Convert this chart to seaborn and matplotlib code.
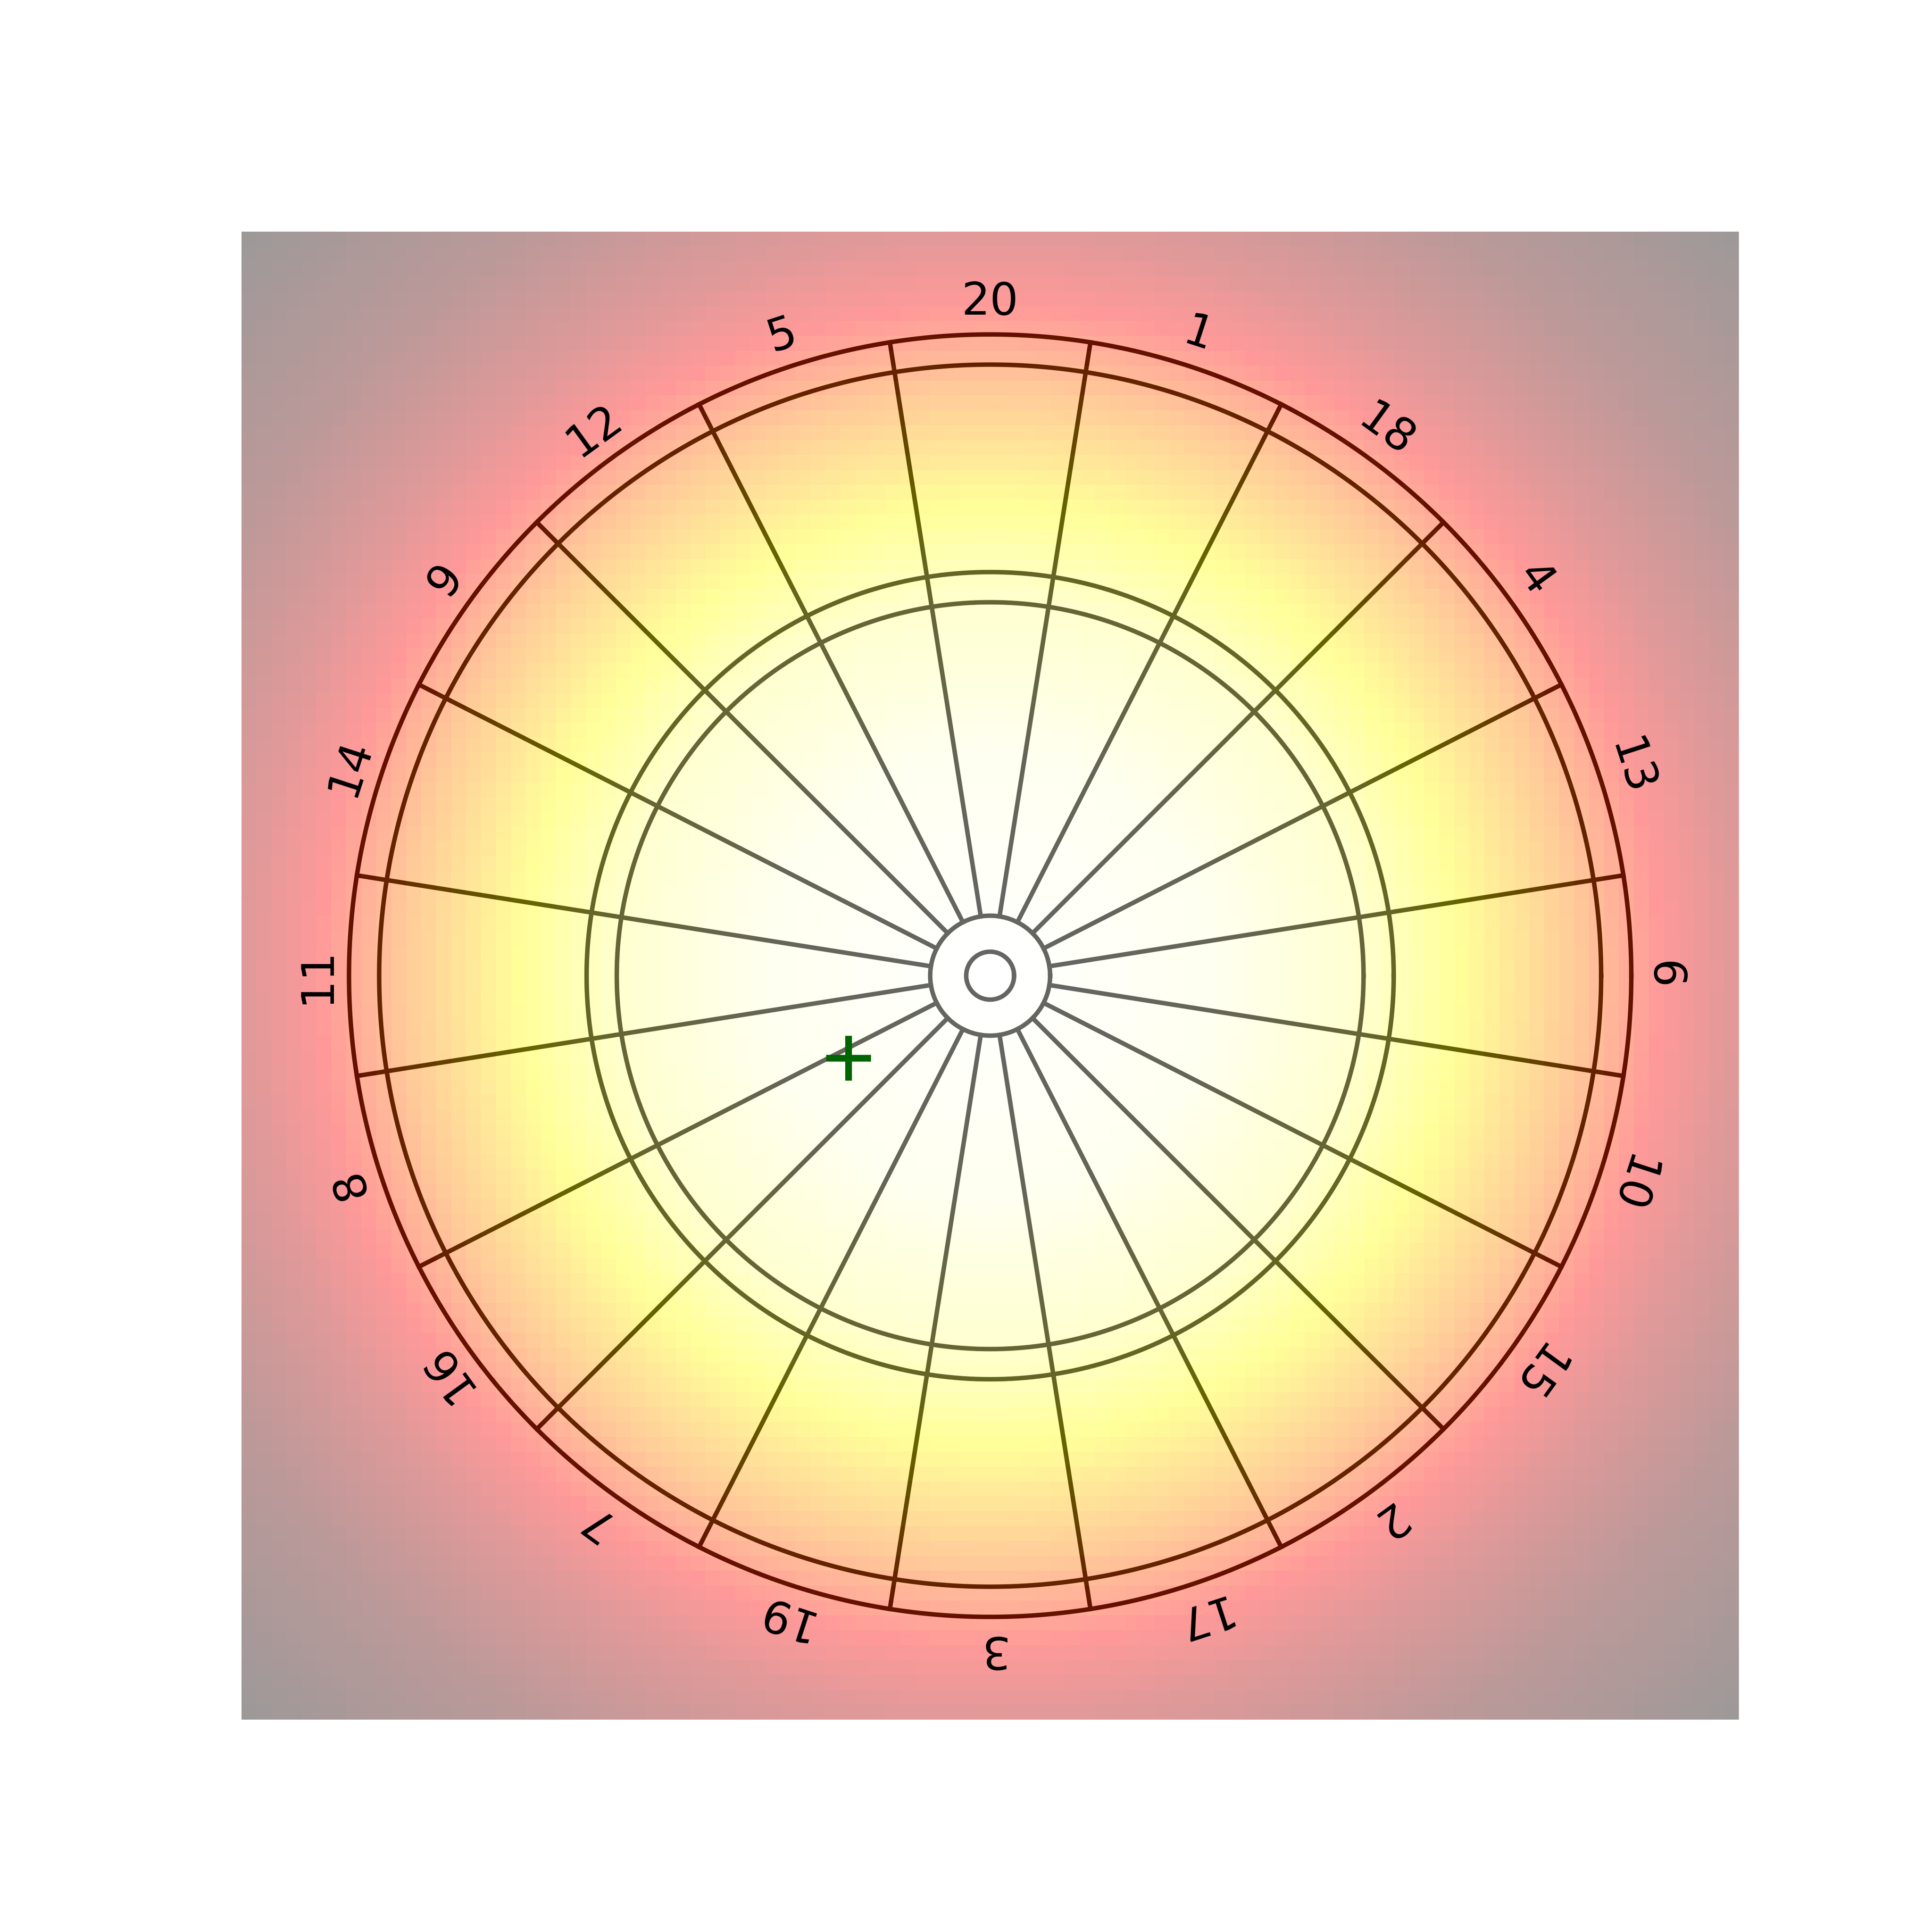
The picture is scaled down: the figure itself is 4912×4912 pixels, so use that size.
import numpy as np
import matplotlib
matplotlib.use("Agg")
import matplotlib.pyplot as plt
import matplotlib.transforms as mtransforms
import seaborn as sns

# ---- board geometry (mm) ----
ring_radii = [6.35, 15.9, 99.0, 107.0, 162.0, 170.0]
sector_numbers = [20, 1, 18, 4, 13, 6, 10, 15, 2, 17, 3, 19, 7, 16, 8, 11, 14, 9, 12, 5]
wire_inner, wire_outer = 15.9, 170.0
label_radius = 178.5
aim_point_x = [-37.6]
aim_point_y = [-21.8]

# ---- heat map: radial profile (mm -> level) ----
heat_radius = [0, 60, 99, 124, 155, 178, 198, 230, 280]
heat_level = [0.0, 0.04, 0.12, 0.25, 0.445, 0.635, 0.75, 0.88, 1.0]

x_half, y_half = 198.5, 197.2
n_cells = 100

# grid of cell centres (row 0 at the top)
xc = -x_half + (np.arange(n_cells) + 0.5) * (2 * x_half / n_cells)
yc = y_half - (np.arange(n_cells) + 0.5) * (2 * y_half / n_cells)
XX, YY = np.meshgrid(xc, yc)
RR = np.hypot(XX, YY)
heat = np.interp(RR, heat_radius, heat_level)

fig, ax = plt.subplots(figsize=(6, 6), dpi=4912 / 6)
sns.heatmap(heat, ax=ax, cmap="hot_r", vmin=0, vmax=1, alpha=0.4,
            cbar=False, xticklabels=False, yticklabels=False)
for coll in ax.collections:
    coll.set_zorder(2)

# mm -> heatmap cell coordinates
tr = (mtransforms.Affine2D()
      .scale(n_cells / (2 * x_half), -n_cells / (2 * y_half))
      .translate(n_cells / 2, n_cells / 2) + ax.transData)

theta = np.linspace(0, 2 * np.pi, 721)
for r in ring_radii:
    ax.plot(r * np.cos(theta), r * np.sin(theta), color="black", lw=1,
            transform=tr, zorder=1)

for k in range(20):
    a = np.radians(9 + 18 * k)
    ax.plot([wire_inner * np.cos(a), wire_outer * np.cos(a)],
            [wire_inner * np.sin(a), wire_outer * np.sin(a)],
            color="black", lw=1, transform=tr, zorder=1)

for i, num in enumerate(sector_numbers):
    ang = 90 - 18 * i
    a = np.radians(ang)
    ax.text(label_radius * np.cos(a), label_radius * np.sin(a), str(num),
            rotation=ang - 90, ha="center", va="center", fontsize=10,
            color="black", transform=tr, zorder=3)

ax.plot(aim_point_x, aim_point_y, marker="+", color="darkgreen", ms=10, mew=1.5,
        linestyle="none", transform=tr, zorder=4)

ax.set_xlim(0, n_cells)
ax.set_ylim(n_cells, 0)

fig.savefig("out.png", dpi=4912 / 6)
